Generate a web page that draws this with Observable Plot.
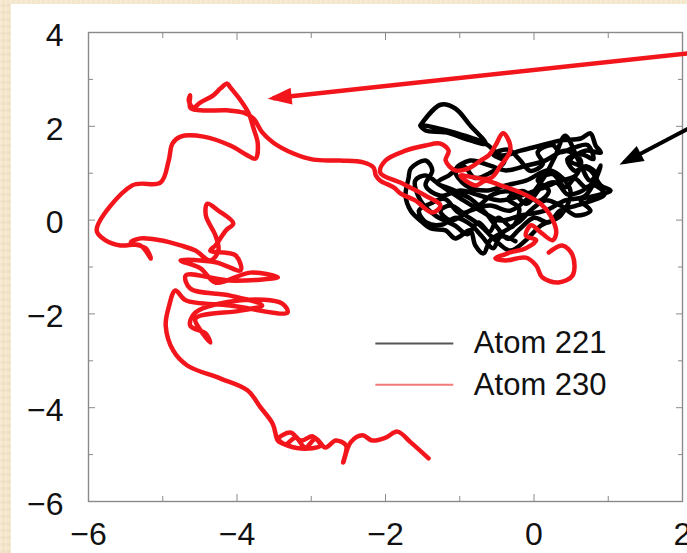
<!DOCTYPE html>
<html><head><meta charset="utf-8">
<script src="https://cdn.jsdelivr.net/npm/d3@7"></script>
<script src="https://cdn.jsdelivr.net/npm/@observablehq/plot@0.6"></script>
<style>
html,body{margin:0;padding:0;}
body{width:687px;height:553px;overflow:hidden;position:relative;
  background:#f4e6cb;
  background-image:repeating-linear-gradient(90deg, rgba(255,255,255,0.18) 0 2px, rgba(0,0,0,0) 2px 5px),
                   repeating-linear-gradient(0deg, rgba(200,170,120,0.10) 0 3px, rgba(0,0,0,0) 3px 7px);}
#panel{position:absolute;left:11px;top:4px;right:0;bottom:0;background:#fff;}
#chart{position:absolute;left:0;top:0;}
</style></head><body><div id="panel"></div><div id="chart"></div>
<script>
// ---- tick values ----
const xTicks = [-6, -4, -2, 0, 2];
const yTicks = [-6, -4, -2, 0, 2, 4];
const xMinor = [-5, -3, -1, 1];
const yMinor = [-5, -3, -1, 1, 3];

// ---- series names / legend ----
const seriesNames = ["Atom 221", "Atom 230"];
const seriesColors = ["#000000", "#f2161c"];
const legendColors = ["#555555", "#f27a7a"];
const legendRowY = [-2.63, -3.51];

// ---- trajectory of Atom 221 (x, y) ----
const atom221 = [
  [-1.53,2.02],[-1.26,2.46],[-1.06,2.38],[-0.86,2.02],[-0.65,1.63],[-0.86,1.70],[-1.19,1.87],[-1.46,1.91],
  [-1.53,2.02],[-0.65,1.63],[-0.45,1.38],[-0.18,1.48],[0.09,1.59],[0.36,1.70],[0.63,1.74],[0.76,1.85],
  [0.83,1.59],[0.90,1.44],[0.69,1.48],[0.49,1.27],[0.76,1.06],[0.90,0.74],[1.03,0.63],[0.83,0.52],
  [0.63,0.42],[0.76,0.20],[0.56,0.10],[0.36,0.31],[0.15,0.42],[-0.05,0.20],[-0.18,-0.01],[-0.38,-0.22],
  [-0.59,-0.43],[-0.68,-0.71],[-0.79,-0.54],[-0.86,-0.22],[-1.06,-0.39],[-1.19,-0.22],[-1.39,-0.18],
  [-1.53,-0.01],[-1.66,0.20],[-1.73,0.52],[-1.69,0.89],[-1.66,1.10],[-1.46,1.27],[-1.37,1.06],[-1.46,0.74],
  [-1.26,0.52],[-0.99,0.63],[-0.72,0.52],[-0.45,0.42],[-0.18,0.52],[0.09,0.67],[0.36,0.84],[0.56,0.95],
  [0.63,1.27],[0.42,1.48],[0.15,1.27],[-0.11,1.16],[-0.38,1.06],[-0.59,1.16],[-0.86,1.27],[-1.06,1.06],
  [-0.92,0.74],[-0.65,0.63],[-0.38,0.74],[-0.11,0.84],[0.22,1.06],[0.49,0.63],[0.36,0.10],[0.09,-0.12],
  [-0.11,-0.43],[-0.32,-0.65],[-0.52,-0.43],[-0.72,-0.12],[-0.92,0.10],[-1.12,0.31],[-1.26,0.20],
  [-1.12,-0.01],[-0.86,0.20],[-0.59,0.31],[-0.32,0.20],[-0.05,0.52],[0.15,0.95],[0.29,1.38],[0.42,1.80],
  [0.60,1.27],[0.76,0.84],[0.90,1.16],[0.69,0.52],[0.42,0.42],[0.15,0.20],[-0.18,0.10],[-0.45,-0.01],
  [-0.72,0.20],[-0.99,0.46],[-1.26,0.74],[-1.46,0.95],[-1.60,0.84],[-1.53,0.42],[-1.33,0.10],[-1.06,-0.12],
  [-0.90,-0.30],[-0.75,-0.05],[-0.60,-0.25],[-0.48,0.05],[-0.30,-0.15],[-0.20,0.25],[-0.35,0.45],
  [-0.15,0.62],[0.05,0.40],[0.20,0.62],[0.05,0.85],[0.25,0.98],[0.42,0.70],[0.55,0.88],[0.70,0.70],
  [0.85,0.95],[0.70,1.15],[0.55,1.05],[0.45,1.30],[0.65,1.40],[0.80,1.30],[0.72,1.60],[0.55,1.55],
  [0.35,1.45],[0.25,1.60],[0.05,1.45],[0.12,1.20],[-0.05,1.05],[-0.20,1.30],[-0.35,1.50],[-0.55,1.40],
  [-0.40,1.25],[-0.60,1.00],[-0.80,0.90],[-0.95,1.15],[-1.15,0.95],[-1.30,0.80],[-1.10,0.65],
  [-0.85,0.45],[-0.65,0.15],[-0.50,-0.15],[-0.35,-0.40],[-0.20,-0.20],[0.00,0.05],[0.20,-0.05],
  [0.35,0.20],[0.55,0.30],[0.75,0.40],[0.95,0.55],[0.80,0.75],[0.62,0.60],[0.45,0.55],[0.30,0.80],
  [0.10,0.70],[-0.10,0.35],[-0.30,0.60],[-0.55,0.55],[-0.75,0.30],[-1.00,0.15],[-1.20,0.45],
  [-1.40,0.35],[-1.55,0.20],[-1.45,-0.05],[-1.25,-0.10],[-1.05,0.05],[-0.85,-0.10],[-0.70,-0.35],
  [-0.55,-0.60],[-0.45,-0.35],[-0.25,-0.45]
];

// ---- trajectory of Atom 230 (x, y) ----
const atom230 = [
  [-1.42,-5.08],[-1.66,-4.74],[-1.84,-4.51],[-2.00,-4.64],[-2.18,-4.70],[-2.31,-4.59],[-2.47,-4.74],
  [-2.57,-5.17],[-2.53,-4.81],[-2.67,-4.70],[-2.81,-4.85],[-2.94,-4.66],[-3.08,-4.85],[-3.21,-4.64],
  [-3.35,-4.78],[-3.44,-4.66],[-3.28,-4.53],[-3.14,-4.70],[-2.98,-4.61],[-2.88,-4.81],[-3.14,-4.87],
  [-3.39,-4.76],[-3.45,-4.70],[-3.52,-4.34],[-3.68,-4.00],[-3.86,-3.63],[-4.22,-3.38],[-4.67,-3.10],
  [-4.86,-2.78],[-4.96,-2.25],[-4.92,-1.86],
  [-4.83,-1.50],[-4.69,-1.71],[-4.09,-1.82],[-3.32,-1.97],[-3.39,-1.78],[-3.95,-1.71],[-4.56,-1.97],
  [-4.63,-2.25],[-4.42,-2.42],[-4.36,-2.61],[-4.49,-2.35],[-4.56,-2.10],[-3.95,-1.93],[-3.66,-1.82],
  [-4.09,-1.61],[-4.63,-1.46],[-4.69,-1.18],[-4.09,-1.29],[-3.45,-1.22],[-3.82,-1.12],[-4.29,-1.33],
  [-4.49,-1.03],[-4.76,-0.86],[-4.29,-0.90],[-3.95,-1.07],[-4.02,-0.75],[-4.36,-0.65],[-4.29,-0.54],
  [-4.15,-0.22],[-4.05,-0.07],[-4.25,0.20],[-4.40,0.35],[-4.42,0.10],[-4.29,-0.33],[-4.25,-0.65],
  [-4.36,-0.86],[-4.56,-0.65],[-4.76,-0.54],[-5.03,-0.43],[-5.30,-0.39],[-5.43,-0.48],[-5.23,-0.60],
  [-5.16,-0.82],[-5.30,-0.54],[-5.57,-0.54],[-5.77,-0.43],[-5.89,-0.22],
  [-5.41,0.74],[-5.03,0.80],[-4.92,1.27],[-4.87,1.63],[-4.76,1.78],[-4.45,1.78],[-4.09,1.59],
  [-3.86,1.38],[-3.75,1.31],[-3.72,1.63],[-3.78,1.97],[-3.84,2.27],[-3.95,2.55],[-4.09,2.83],
  [-4.13,2.91],[-4.22,2.81],[-4.32,2.66],[-4.49,2.51],[-4.59,2.40],[-4.65,2.55],[-4.63,2.66],
  [-4.63,2.40],[-4.49,2.34],[-4.13,2.34],[-3.91,2.29],[-3.78,2.17],[-3.66,1.87],[-3.51,1.65],
  [-3.24,1.42],[-2.97,1.29],[-2.61,1.27],[-2.30,1.23],[-2.16,1.12],[-2.13,0.95],[-2.07,0.84],
  [-1.89,0.70],[-1.80,0.57],[-1.60,0.42],[-1.37,0.16],[-1.26,0.31],[-1.46,0.52],[-1.80,0.80],
  [-2.07,1.01],[-2.00,1.27],[-1.73,1.48],[-1.46,1.59],[-1.26,1.63],[-1.15,1.48],[-1.19,1.27],
  [-1.06,1.06],[-0.86,1.12],[-0.72,1.27],[-0.61,1.38],[-0.52,1.59],[-0.42,1.85],[-0.36,1.76],
  [-0.32,1.48],[-0.45,1.16],[-0.59,0.89],[-0.99,0.95],[-0.79,0.74],[-0.65,0.84],[-0.45,0.74],
  [-0.18,0.59],[0.09,0.35],[0.22,0.10],[0.30,-0.26],[0.25,-0.43],[0.09,-0.26],[-0.04,-0.11],
  [-0.11,-0.33],[0.03,-0.43],[-0.11,-0.60],[-0.32,-0.69],[-0.52,-0.82],[-0.38,-0.86],[-0.11,-0.80],
  [0.03,-0.97],[0.11,-1.22],[0.33,-1.33],[0.52,-1.18],[0.52,-0.75],[0.38,-0.54],[0.20,-0.69]
];

// ---- annotation arrows (start -> tip) ----
const arrowStartX = [2.1, 2.1];
const arrowStartY = [3.56, 1.97];
const arrowTipX = [-3.52, 1.21];
const arrowTipY = [2.60, 1.23];

const fmt = d => d < 0 ? "\u2212" + (-d) : String(d);
const legendRows = seriesNames.map((label, i) => ({label, y: legendRowY[i], color: legendColors[i]}));
const arrows = arrowStartX.map((x1, i) => ({x1, y1: arrowStartY[i], x2: arrowTipX[i], y2: arrowTipY[i], color: seriesColors[1 - i], w: i === 0 ? 4.5 : 4}));

function headMarker(color, context) {
  const ns = "http://www.w3.org/2000/svg";
  const doc = (context && context.document) || document;
  const m = doc.createElementNS(ns, "marker");
  m.setAttribute("viewBox", "-24 -10 32 20");
  m.setAttribute("markerWidth", "32");
  m.setAttribute("markerHeight", "20");
  m.setAttribute("markerUnits", "userSpaceOnUse");
  m.setAttribute("refX", "0");
  m.setAttribute("refY", "0");
  m.setAttribute("orient", "auto");
  const p = doc.createElementNS(ns, "path");
  p.setAttribute("d", "M5,0L-19,-8.5L-19,8.5Z");
  p.setAttribute("fill", color);
  m.appendChild(p);
  return m;
}

const axisStroke = "#8a8a8a";
function build(marker) {
  return Plot.plot({
    width: 687, height: 553,
    marginLeft: 88, marginRight: 5, marginTop: 32, marginBottom: 52,
    style: {background: "transparent", fontFamily: "'Liberation Sans', Arial, Helvetica, sans-serif", color: "#111"},
    x: {domain: [-6, 2]},
    y: {domain: [-6, 4]},
    marks: [
      Plot.frame({stroke: axisStroke, strokeWidth: 1.4}),
      Plot.axisX(xTicks, {anchor: "bottom", tickSize: -7, text: null, stroke: axisStroke}),
      Plot.axisX(xTicks, {anchor: "top", tickSize: -7, text: null, stroke: axisStroke}),
      Plot.axisX(xMinor, {anchor: "bottom", tickSize: -5, text: null, stroke: axisStroke}),
      Plot.axisX(xMinor, {anchor: "top", tickSize: -5, text: null, stroke: axisStroke}),
      Plot.axisY(yTicks, {anchor: "left", tickSize: -7, text: null, stroke: axisStroke}),
      Plot.axisY(yTicks, {anchor: "right", tickSize: -7, text: null, stroke: axisStroke}),
      Plot.axisY(yMinor, {anchor: "left", tickSize: -5, text: null, stroke: axisStroke}),
      Plot.axisY(yMinor, {anchor: "right", tickSize: -5, text: null, stroke: axisStroke}),
      Plot.axisX(xTicks, {anchor: "bottom", tickSize: 0, tickPadding: 21, fontSize: 32, tickFormat: fmt, label: null, fill: "#111"}),
      Plot.axisY(yTicks, {anchor: "left", tickSize: 0, tickPadding: 25, fontSize: 32, tickFormat: fmt, label: null, dy: 3, fill: "#111"}),
      Plot.line(atom221, {x: d => d[0], y: d => d[1], stroke: seriesColors[0], strokeWidth: 4.5, curve: "catmull-rom", strokeLinejoin: "round", strokeLinecap: "round"}),
      Plot.line(atom230, {x: d => d[0], y: d => d[1], stroke: seriesColors[1], strokeWidth: 4.5, curve: "catmull-rom", strokeLinejoin: "round", strokeLinecap: "round"}),
      Plot.ruleY(legendRows, {y: "y", x1: -2.13, x2: -1.08, stroke: "color", strokeWidth: 2}),
      Plot.text(legendRows, {x: -0.81, y: "y", text: "label", textAnchor: "start", fontSize: 31, fill: "#111"}),
      Plot.link(arrows, {x1: "x1", y1: "y1", x2: "x2", y2: "y2", stroke: "color", strokeWidth: "w", markerEnd: marker})
    ]
  });
}
let chart;
try { chart = build(headMarker); } catch (e) { chart = build("arrow"); }
document.getElementById("chart").appendChild(chart);
</script>
</body></html>
